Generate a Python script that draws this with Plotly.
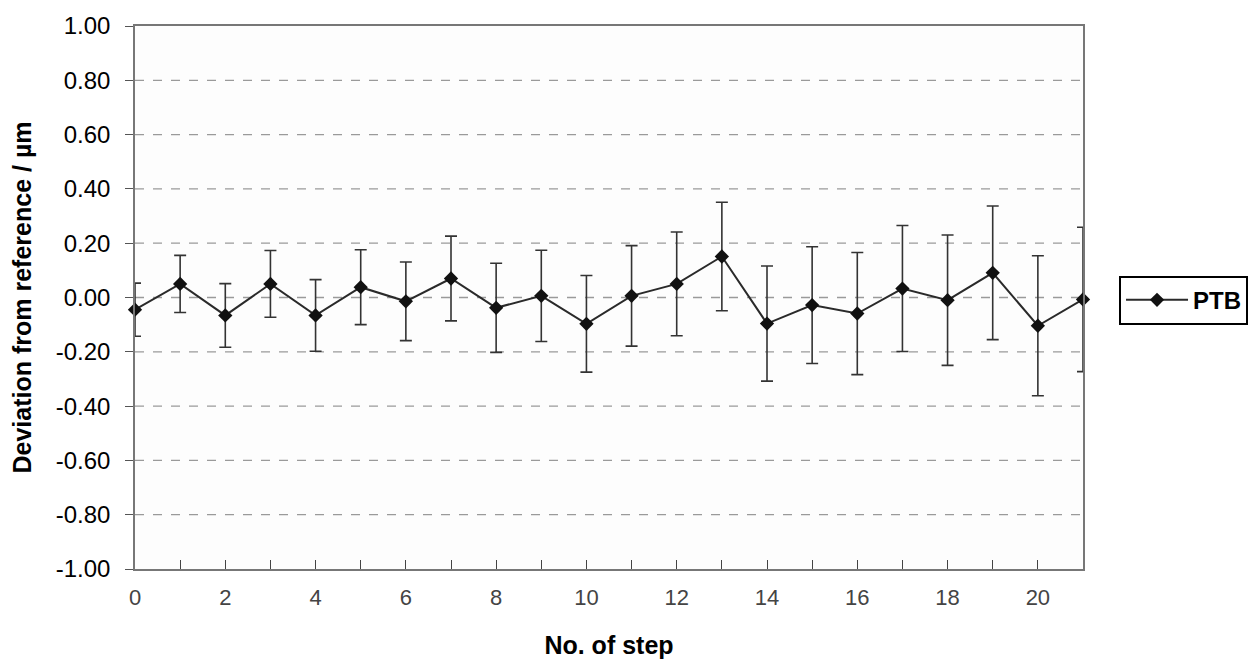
import plotly.graph_objects as go

# deviation of each step from the reference
steps = list(range(0, 22))
ptb_dev = [-0.045, 0.050, -0.066, 0.050, -0.066, 0.038, -0.014, 0.070,
           -0.038, 0.006, -0.097, 0.006, 0.050, 0.151, -0.096, -0.028,
           -0.059, 0.033, -0.010, 0.091, -0.104, -0.007]
ptb_err = [0.098, 0.105, 0.117, 0.123, 0.132, 0.138, 0.145, 0.156,
           0.164, 0.168, 0.178, 0.185, 0.191, 0.200, 0.212, 0.215,
           0.225, 0.232, 0.240, 0.246, 0.258, 0.266]

x_labels = [str(s) if s % 2 == 0 else "" for s in steps]
y_ticks = [-1.0, -0.8, -0.6, -0.4, -0.2, 0.0, 0.2, 0.4, 0.6, 0.8, 1.0]

FONT = "Liberation Sans, Arial, sans-serif"

fig = go.Figure()
fig.add_trace(go.Scatter(
    x=steps, y=ptb_dev, name="PTB", mode="lines+markers",
    line=dict(color="#2a2a2a", width=2),
    marker=dict(symbol="diamond", size=11, color="#111111"),
    error_y=dict(type="data", array=ptb_err, visible=True,
                 color="#333333", thickness=1.6, width=6),
    cliponaxis=False,
))

# dashed grid lines every 0.2, Excel style
for v in y_ticks[1:-1]:
    fig.add_shape(type="line", xref="paper", x0=0, x1=1, yref="y", y0=v, y1=v,
                  line=dict(color="#9a9a9a", width=1.3, dash="dash"), layer="below")

fig.update_layout(
    width=1257, height=663,
    margin=dict(l=127, r=182, t=18, b=102),
    paper_bgcolor="white", plot_bgcolor="#fdfdfd",
    font=dict(family=FONT, size=20, color="black"),
    showlegend=True,
    legend=dict(x=1.038, y=0.495, xanchor="left", yanchor="middle",
                bordercolor="black", borderwidth=2, bgcolor="white",
                itemwidth=62,
                font=dict(size=24, family=FONT, weight="bold")),
)
fig.update_xaxes(
    range=[0, 21], tickmode="array", tickvals=steps, ticktext=x_labels,
    ticks="inside", ticklen=9, tickcolor="#444", tickwidth=1,
    showline=True, linecolor="#777", linewidth=1.5, mirror=True,
    showgrid=False, zeroline=False, ticklabelstandoff=8, automargin=False,
    tickfont=dict(color="#444", size=22),
    title=dict(text="No. of step", font=dict(size=25, weight="bold"), standoff=27),
)
fig.update_yaxes(
    range=[-1.0, 1.0], tickmode="array", tickvals=y_ticks,
    ticktext=[f"{v:.2f}" for v in y_ticks],
    ticks="outside", ticklen=8, tickcolor="#555",
    showline=True, linecolor="#777", linewidth=1.5, mirror=True,
    showgrid=False, zeroline=False, ticklabelstandoff=10,
    automargin=False,
    tickfont=dict(size=24),
    title=dict(text="Deviation from reference / µm",
               font=dict(size=25, weight="bold"), standoff=20),
)

fig.write_html("out.html")
